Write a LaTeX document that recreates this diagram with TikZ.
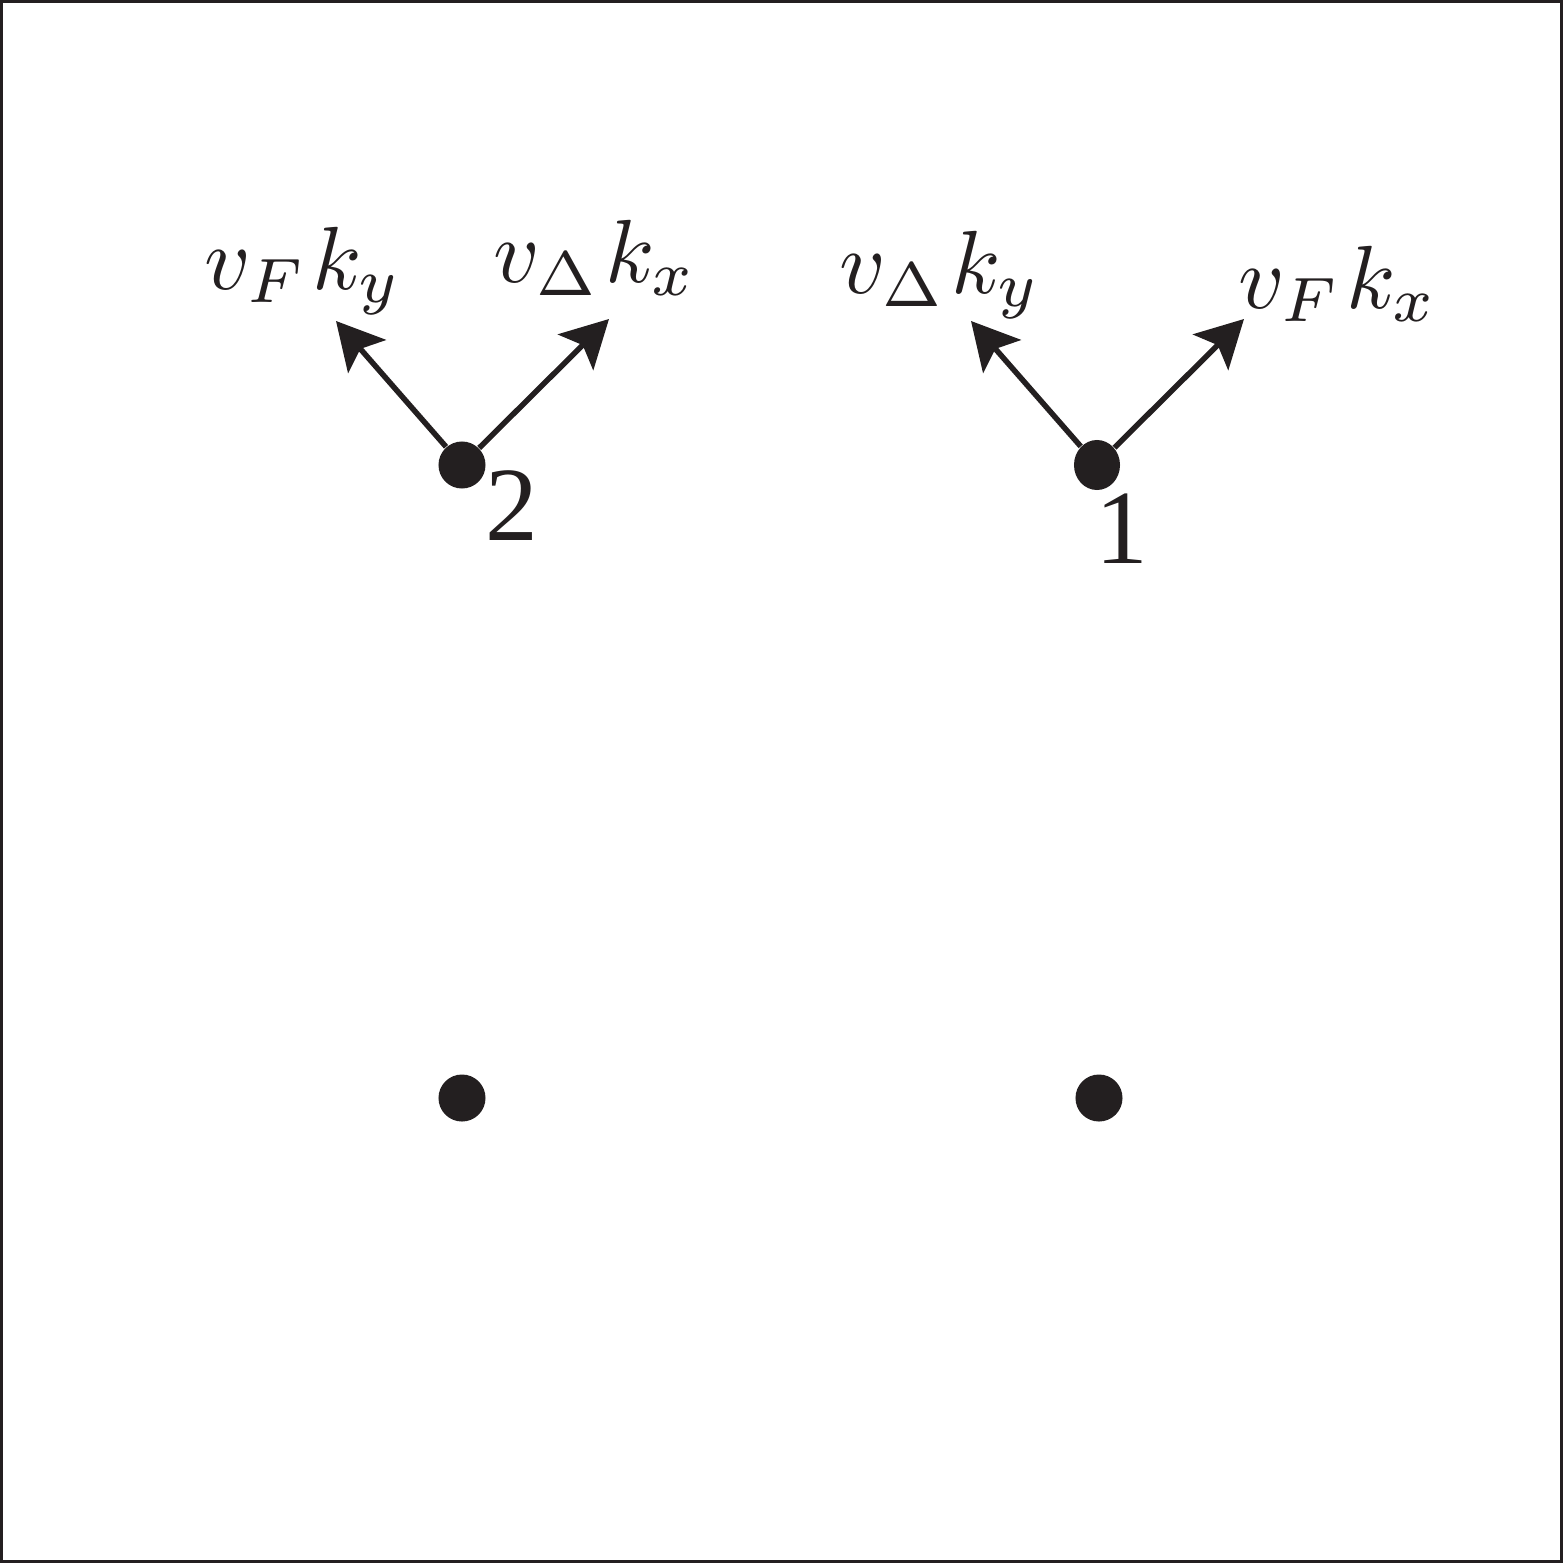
\documentclass[tikz,border=0pt]{standalone}
\usepackage{fontspec}
\newfontfamily\digitfont{Liberation Serif}
\usetikzlibrary{arrows.meta,shapes.geometric}
\definecolor{ink}{HTML}{231F20}
\newcommand{\biglab}[1]{\scalebox{2.55}{\fontsize{10}{12}\selectfont$#1$}}
\begin{document}
\begin{tikzpicture}[x=0.01cm,y=-0.01cm,
  dot/.style={circle,fill=ink,inner sep=0pt,minimum size=0.47cm},
  vec/.style={draw=ink,line width=0.055cm,-{Stealth[length=0.47cm,width=0.5cm,inset=0.1cm]}},
  lab/.style={text=ink,inner sep=0pt,anchor=base},
  num/.style={text=ink,inner sep=0pt,anchor=base,font=\digitfont\fontsize{30}{34}\selectfont}]
\useasboundingbox (0,0) rectangle (1563,1563);
\draw[ink,line width=0.03cm] (1.5,1.5) rectangle (1561.5,1561.5);
\node[dot] (d2) at (462,465) {};
\node[ellipse,fill=ink,inner sep=0pt,minimum width=0.46cm,minimum height=0.5cm] (d1) at (1097,465) {};
\node[dot] (d3) at (462,1098) {};
\node[dot] (d4) at (1099,1098) {};
\coordinate (t2l) at (336,321);
\coordinate (t2r) at (609,319);
\coordinate (t1l) at (971,321);
\coordinate (t1r) at (1244,319);
\draw[vec] (d2) -- (t2l);
\draw[vec] (d2) -- (t2r);
\draw[vec] (d1) -- (t1l);
\draw[vec] (d1) -- (t1r);
\node[lab] (l1) at (303,289) {\biglab{v_{F}\mkern1mu k_y}};
\node[lab] (l2) at (595,282) {\biglab{v_{\Delta}\mkern1mu k_x}};
\node[lab] (l3) at (940,293) {\biglab{v_{\Delta}\mkern1mu k_y}};
\node[lab] (l4) at (1338,308) {\biglab{v_{F}\mkern1mu k_x}};
\node[num] (n2) at (512,540) {2};
\node[num] (n1) at (1122,563) {1};
\end{tikzpicture}
\end{document}
